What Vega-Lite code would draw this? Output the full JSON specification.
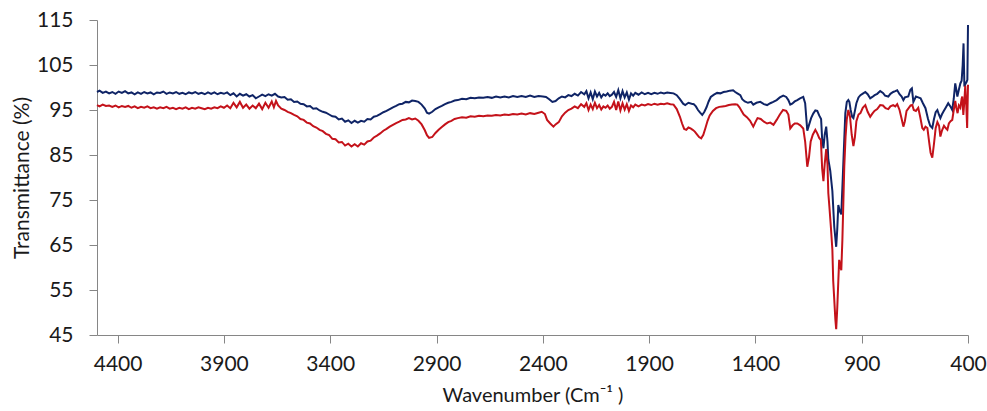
{
  "$schema": "https://vega.github.io/schema/vega-lite/v6.json",
  "autosize": {"type": "none"},
  "padding": {"left": 97, "top": 20, "right": 19, "bottom": 76},
  "width": 871,
  "height": 315,
  "background": "white",
  "config": {
    "view": {"stroke": null},
    "font": "Lato",
    "axis": {"labelFont": "Lato", "titleFont": "Lato", "labelFontSize": 21, "titleFontSize": 21, "titleFontWeight": "normal", "labelColor": "#1a1a1a", "titleColor": "#1a1a1a", "domainColor": "#868686", "tickColor": "#868686", "grid": false, "tickSize": 8}
  },
  "datasets": {
    "navy": [
      {"w":4497,"t":99.0},{"w":4485,"t":99.3},{"w":4470,"t":98.8},{"w":4455,"t":99.1},{"w":4440,"t":98.7},{"w":4425,"t":99.0},{"w":4410,"t":98.6},{"w":4395,"t":99.1},{"w":4380,"t":98.8},{"w":4365,"t":99.2},{"w":4350,"t":98.7},{"w":4335,"t":98.9},{"w":4320,"t":98.5},{"w":4305,"t":98.9},{"w":4290,"t":98.6},{"w":4275,"t":99.0},{"w":4260,"t":98.7},{"w":4245,"t":98.9},{"w":4230,"t":98.5},{"w":4215,"t":98.9},{"w":4200,"t":98.8},{"w":4185,"t":99.1},{"w":4170,"t":98.6},{"w":4155,"t":98.9},{"w":4140,"t":98.7},{"w":4125,"t":99.0},{"w":4110,"t":98.6},{"w":4095,"t":98.8},{"w":4080,"t":98.5},{"w":4065,"t":98.9},{"w":4050,"t":98.7},{"w":4035,"t":99.0},{"w":4020,"t":98.6},{"w":4005,"t":98.8},{"w":3990,"t":98.5},{"w":3975,"t":98.9},{"w":3960,"t":98.6},{"w":3945,"t":98.9},{"w":3930,"t":98.5},{"w":3915,"t":98.8},{"w":3900,"t":98.6},{"w":3885,"t":98.9},{"w":3870,"t":98.3},{"w":3855,"t":98.7},{"w":3840,"t":98.0},{"w":3825,"t":98.6},{"w":3810,"t":98.2},{"w":3795,"t":98.5},{"w":3780,"t":98.0},{"w":3765,"t":98.3},{"w":3750,"t":97.6},{"w":3735,"t":98.0},{"w":3720,"t":98.4},{"w":3705,"t":98.1},{"w":3690,"t":98.5},{"w":3675,"t":98.2},{"w":3660,"t":98.6},{"w":3645,"t":98.0},{"w":3630,"t":97.8},{"w":3615,"t":97.9},{"w":3600,"t":97.3},{"w":3585,"t":97.4},{"w":3570,"t":96.8},{"w":3555,"t":96.9},{"w":3540,"t":96.4},{"w":3525,"t":96.3},{"w":3510,"t":95.8},{"w":3495,"t":95.9},{"w":3480,"t":95.3},{"w":3465,"t":95.4},{"w":3450,"t":94.9},{"w":3435,"t":94.6},{"w":3420,"t":94.4},{"w":3405,"t":94.0},{"w":3390,"t":93.6},{"w":3375,"t":93.5},{"w":3360,"t":92.9},{"w":3345,"t":93.1},{"w":3330,"t":92.4},{"w":3315,"t":92.7},{"w":3300,"t":92.1},{"w":3285,"t":92.6},{"w":3270,"t":92.2},{"w":3255,"t":92.6},{"w":3240,"t":92.4},{"w":3225,"t":93.0},{"w":3210,"t":92.9},{"w":3195,"t":93.5},{"w":3180,"t":93.7},{"w":3165,"t":94.1},{"w":3150,"t":94.5},{"w":3135,"t":94.8},{"w":3120,"t":95.2},{"w":3105,"t":95.6},{"w":3090,"t":95.9},{"w":3075,"t":96.3},{"w":3060,"t":96.4},{"w":3045,"t":96.8},{"w":3030,"t":96.7},{"w":3015,"t":97.1},{"w":3000,"t":97.0},{"w":2985,"t":96.8},{"w":2970,"t":96.2},{"w":2955,"t":95.3},{"w":2945,"t":94.4},{"w":2935,"t":94.2},{"w":2920,"t":94.6},{"w":2905,"t":95.2},{"w":2890,"t":95.6},{"w":2875,"t":95.9},{"w":2860,"t":96.3},{"w":2845,"t":96.6},{"w":2830,"t":96.8},{"w":2815,"t":97.1},{"w":2800,"t":97.2},{"w":2780,"t":97.5},{"w":2760,"t":97.4},{"w":2740,"t":97.7},{"w":2720,"t":97.6},{"w":2700,"t":97.8},{"w":2680,"t":97.7},{"w":2660,"t":97.9},{"w":2640,"t":97.7},{"w":2620,"t":98.0},{"w":2600,"t":97.8},{"w":2580,"t":98.0},{"w":2560,"t":97.8},{"w":2540,"t":98.1},{"w":2520,"t":97.9},{"w":2500,"t":98.1},{"w":2480,"t":97.9},{"w":2460,"t":98.2},{"w":2440,"t":97.9},{"w":2420,"t":98.1},{"w":2400,"t":98.0},{"w":2385,"t":97.9},{"w":2370,"t":97.4},{"w":2355,"t":96.8},{"w":2340,"t":97.0},{"w":2325,"t":97.6},{"w":2310,"t":98.0},{"w":2295,"t":97.8},{"w":2280,"t":98.3},{"w":2265,"t":98.1},{"w":2250,"t":98.6},{"w":2235,"t":98.2},{"w":2220,"t":99.0},{"w":2205,"t":98.5},{"w":2195,"t":99.2},{"w":2185,"t":97.6},{"w":2175,"t":98.9},{"w":2165,"t":97.4},{"w":2155,"t":99.1},{"w":2145,"t":98.0},{"w":2135,"t":98.8},{"w":2125,"t":97.8},{"w":2115,"t":98.5},{"w":2105,"t":98.2},{"w":2095,"t":98.7},{"w":2085,"t":98.1},{"w":2075,"t":98.4},{"w":2065,"t":99.0},{"w":2055,"t":97.9},{"w":2045,"t":99.4},{"w":2035,"t":97.6},{"w":2025,"t":99.2},{"w":2015,"t":97.8},{"w":2005,"t":98.9},{"w":1995,"t":97.3},{"w":1985,"t":98.7},{"w":1975,"t":98.2},{"w":1965,"t":98.8},{"w":1950,"t":98.4},{"w":1935,"t":98.9},{"w":1920,"t":98.5},{"w":1905,"t":98.8},{"w":1890,"t":98.5},{"w":1875,"t":98.8},{"w":1860,"t":98.6},{"w":1845,"t":98.9},{"w":1830,"t":98.7},{"w":1815,"t":98.9},{"w":1800,"t":98.8},{"w":1785,"t":98.7},{"w":1770,"t":98.3},{"w":1755,"t":97.4},{"w":1740,"t":96.4},{"w":1730,"t":96.1},{"w":1715,"t":96.6},{"w":1700,"t":96.4},{"w":1690,"t":96.3},{"w":1680,"t":95.8},{"w":1670,"t":95.0},{"w":1660,"t":94.4},{"w":1650,"t":93.9},{"w":1640,"t":94.6},{"w":1630,"t":95.6},{"w":1620,"t":96.9},{"w":1610,"t":97.9},{"w":1595,"t":98.4},{"w":1580,"t":98.8},{"w":1565,"t":98.7},{"w":1550,"t":99.0},{"w":1535,"t":99.1},{"w":1520,"t":99.3},{"w":1505,"t":99.4},{"w":1495,"t":99.0},{"w":1485,"t":98.7},{"w":1471,"t":98.3},{"w":1462,"t":97.4},{"w":1450,"t":96.9},{"w":1435,"t":96.6},{"w":1420,"t":96.8},{"w":1410,"t":96.2},{"w":1395,"t":96.6},{"w":1377,"t":96.8},{"w":1360,"t":96.3},{"w":1345,"t":96.1},{"w":1330,"t":96.5},{"w":1316,"t":96.8},{"w":1300,"t":97.2},{"w":1285,"t":97.8},{"w":1269,"t":98.2},{"w":1255,"t":97.9},{"w":1245,"t":97.2},{"w":1236,"t":96.2},{"w":1227,"t":96.4},{"w":1215,"t":96.9},{"w":1203,"t":97.2},{"w":1190,"t":97.6},{"w":1175,"t":97.9},{"w":1166,"t":96.5},{"w":1156,"t":90.4},{"w":1147,"t":91.8},{"w":1138,"t":93.2},{"w":1128,"t":94.2},{"w":1118,"t":94.9},{"w":1109,"t":94.8},{"w":1100,"t":93.8},{"w":1091,"t":93.0},{"w":1086,"t":88.5},{"w":1080,"t":86.5},{"w":1074,"t":89.5},{"w":1067,"t":91.3},{"w":1061,"t":88.0},{"w":1057,"t":84.0},{"w":1048,"t":81.5},{"w":1038,"t":77.0},{"w":1029,"t":69.0},{"w":1020,"t":64.6},{"w":1015,"t":68.5},{"w":1010,"t":73.9},{"w":1003,"t":72.5},{"w":996,"t":71.8},{"w":989,"t":80.0},{"w":982,"t":88.5},{"w":977,"t":94.3},{"w":970,"t":96.8},{"w":963,"t":97.2},{"w":958,"t":96.8},{"w":952,"t":95.0},{"w":945,"t":93.5},{"w":939,"t":93.2},{"w":932,"t":94.8},{"w":925,"t":96.5},{"w":915,"t":97.8},{"w":906,"t":98.3},{"w":893,"t":98.7},{"w":883,"t":99.0},{"w":872,"t":98.5},{"w":860,"t":97.6},{"w":850,"t":97.9},{"w":839,"t":98.3},{"w":827,"t":98.6},{"w":813,"t":99.2},{"w":800,"t":98.8},{"w":790,"t":98.2},{"w":775,"t":98.0},{"w":765,"t":98.6},{"w":752,"t":99.0},{"w":742,"t":99.2},{"w":733,"t":99.4},{"w":722,"t":98.5},{"w":712,"t":98.0},{"w":704,"t":97.2},{"w":697,"t":97.8},{"w":681,"t":98.0},{"w":671,"t":99.5},{"w":664,"t":99.8},{"w":657,"t":96.8},{"w":645,"t":98.0},{"w":634,"t":97.8},{"w":623,"t":97.6},{"w":612,"t":96.5},{"w":600,"t":95.4},{"w":588,"t":93.0},{"w":578,"t":91.5},{"w":568,"t":91.0},{"w":560,"t":93.0},{"w":552,"t":94.5},{"w":544,"t":95.0},{"w":537,"t":94.0},{"w":530,"t":93.2},{"w":523,"t":94.0},{"w":516,"t":94.6},{"w":505,"t":95.5},{"w":493,"t":96.5},{"w":483,"t":95.8},{"w":474,"t":95.0},{"w":467,"t":97.5},{"w":460,"t":100.9},{"w":455,"t":99.5},{"w":450,"t":98.0},{"w":443,"t":99.5},{"w":436,"t":100.9},{"w":430,"t":101.5},{"w":425,"t":105.0},{"w":421,"t":109.8},{"w":417,"t":100.2},{"w":412,"t":100.8},{"w":407,"t":101.2},{"w":403,"t":101.7},{"w":400,"t":113.9}
    ],
    "red": [
      {"w":4497,"t":96.1},{"w":4485,"t":95.8},{"w":4470,"t":96.2},{"w":4455,"t":95.9},{"w":4440,"t":96.0},{"w":4425,"t":95.7},{"w":4410,"t":96.0},{"w":4395,"t":95.6},{"w":4380,"t":95.9},{"w":4365,"t":95.7},{"w":4350,"t":95.9},{"w":4335,"t":95.5},{"w":4320,"t":95.8},{"w":4305,"t":95.4},{"w":4290,"t":95.7},{"w":4275,"t":95.5},{"w":4260,"t":95.8},{"w":4245,"t":95.4},{"w":4230,"t":95.6},{"w":4215,"t":95.3},{"w":4200,"t":95.6},{"w":4185,"t":95.4},{"w":4170,"t":95.7},{"w":4155,"t":95.3},{"w":4140,"t":95.5},{"w":4125,"t":95.2},{"w":4110,"t":95.5},{"w":4095,"t":95.3},{"w":4080,"t":95.6},{"w":4065,"t":95.2},{"w":4050,"t":95.5},{"w":4035,"t":95.3},{"w":4020,"t":95.6},{"w":4005,"t":95.4},{"w":3990,"t":95.2},{"w":3975,"t":95.5},{"w":3960,"t":95.3},{"w":3945,"t":95.6},{"w":3930,"t":95.4},{"w":3915,"t":95.8},{"w":3900,"t":95.5},{"w":3885,"t":96.0},{"w":3870,"t":95.4},{"w":3855,"t":96.6},{"w":3840,"t":95.6},{"w":3825,"t":96.8},{"w":3810,"t":95.5},{"w":3795,"t":96.2},{"w":3780,"t":95.3},{"w":3765,"t":96.0},{"w":3750,"t":95.4},{"w":3735,"t":96.4},{"w":3720,"t":95.2},{"w":3705,"t":96.6},{"w":3690,"t":95.5},{"w":3675,"t":96.9},{"w":3665,"t":95.6},{"w":3655,"t":97.0},{"w":3645,"t":96.0},{"w":3630,"t":95.3},{"w":3615,"t":95.0},{"w":3600,"t":94.6},{"w":3585,"t":94.3},{"w":3570,"t":93.9},{"w":3555,"t":93.6},{"w":3540,"t":93.0},{"w":3525,"t":92.8},{"w":3510,"t":92.2},{"w":3495,"t":92.0},{"w":3480,"t":91.4},{"w":3465,"t":91.1},{"w":3450,"t":90.6},{"w":3435,"t":90.3},{"w":3420,"t":89.7},{"w":3405,"t":89.4},{"w":3390,"t":88.6},{"w":3375,"t":88.5},{"w":3360,"t":87.8},{"w":3345,"t":87.9},{"w":3330,"t":87.1},{"w":3315,"t":87.5},{"w":3300,"t":86.9},{"w":3285,"t":87.4},{"w":3270,"t":86.9},{"w":3255,"t":87.6},{"w":3240,"t":87.3},{"w":3225,"t":88.0},{"w":3210,"t":88.2},{"w":3195,"t":88.9},{"w":3180,"t":89.3},{"w":3165,"t":89.8},{"w":3150,"t":90.4},{"w":3135,"t":90.8},{"w":3120,"t":91.3},{"w":3105,"t":91.7},{"w":3090,"t":92.1},{"w":3075,"t":92.4},{"w":3060,"t":92.8},{"w":3045,"t":92.9},{"w":3030,"t":93.2},{"w":3015,"t":92.9},{"w":3000,"t":93.1},{"w":2985,"t":92.6},{"w":2970,"t":91.8},{"w":2955,"t":90.5},{"w":2945,"t":89.4},{"w":2935,"t":88.8},{"w":2920,"t":89.0},{"w":2905,"t":89.9},{"w":2890,"t":90.6},{"w":2875,"t":91.2},{"w":2860,"t":91.8},{"w":2845,"t":92.3},{"w":2830,"t":92.6},{"w":2815,"t":93.0},{"w":2800,"t":93.2},{"w":2780,"t":93.4},{"w":2760,"t":93.3},{"w":2740,"t":93.6},{"w":2720,"t":93.5},{"w":2700,"t":93.7},{"w":2680,"t":93.6},{"w":2660,"t":93.8},{"w":2640,"t":93.7},{"w":2620,"t":93.9},{"w":2600,"t":93.8},{"w":2580,"t":94.0},{"w":2560,"t":93.9},{"w":2540,"t":94.1},{"w":2520,"t":94.0},{"w":2500,"t":94.2},{"w":2480,"t":94.0},{"w":2460,"t":94.3},{"w":2440,"t":94.1},{"w":2420,"t":94.4},{"w":2405,"t":94.6},{"w":2390,"t":94.1},{"w":2380,"t":92.8},{"w":2365,"t":92.0},{"w":2350,"t":91.3},{"w":2340,"t":91.8},{"w":2325,"t":92.3},{"w":2310,"t":93.6},{"w":2295,"t":94.4},{"w":2280,"t":95.0},{"w":2265,"t":95.3},{"w":2250,"t":95.8},{"w":2235,"t":95.4},{"w":2220,"t":96.3},{"w":2205,"t":95.7},{"w":2195,"t":96.5},{"w":2185,"t":95.0},{"w":2175,"t":96.2},{"w":2165,"t":95.2},{"w":2155,"t":96.6},{"w":2145,"t":95.4},{"w":2135,"t":96.1},{"w":2125,"t":95.1},{"w":2115,"t":95.8},{"w":2105,"t":95.5},{"w":2095,"t":96.0},{"w":2085,"t":95.3},{"w":2075,"t":95.7},{"w":2065,"t":96.8},{"w":2055,"t":95.0},{"w":2045,"t":96.9},{"w":2035,"t":94.9},{"w":2025,"t":96.5},{"w":2015,"t":95.1},{"w":2005,"t":96.3},{"w":1995,"t":94.8},{"w":1985,"t":96.0},{"w":1975,"t":95.6},{"w":1965,"t":96.2},{"w":1950,"t":95.8},{"w":1935,"t":96.2},{"w":1920,"t":96.0},{"w":1905,"t":96.3},{"w":1890,"t":96.1},{"w":1875,"t":96.4},{"w":1860,"t":96.2},{"w":1845,"t":96.4},{"w":1830,"t":96.3},{"w":1815,"t":96.5},{"w":1800,"t":96.3},{"w":1785,"t":96.2},{"w":1770,"t":95.2},{"w":1755,"t":93.5},{"w":1745,"t":92.0},{"w":1735,"t":90.8},{"w":1725,"t":90.6},{"w":1715,"t":91.1},{"w":1705,"t":90.9},{"w":1695,"t":90.6},{"w":1685,"t":90.2},{"w":1675,"t":89.6},{"w":1665,"t":89.0},{"w":1655,"t":88.7},{"w":1645,"t":89.5},{"w":1635,"t":91.0},{"w":1625,"t":92.6},{"w":1615,"t":93.8},{"w":1600,"t":94.8},{"w":1585,"t":95.4},{"w":1570,"t":95.7},{"w":1555,"t":95.8},{"w":1540,"t":95.9},{"w":1525,"t":96.1},{"w":1510,"t":96.2},{"w":1495,"t":96.3},{"w":1485,"t":96.2},{"w":1475,"t":95.6},{"w":1465,"t":94.8},{"w":1455,"t":94.0},{"w":1440,"t":93.4},{"w":1425,"t":92.6},{"w":1410,"t":91.3},{"w":1400,"t":92.3},{"w":1390,"t":93.2},{"w":1375,"t":93.0},{"w":1360,"t":92.4},{"w":1345,"t":92.0},{"w":1330,"t":92.2},{"w":1315,"t":91.7},{"w":1300,"t":92.8},{"w":1285,"t":94.0},{"w":1270,"t":95.0},{"w":1255,"t":94.8},{"w":1245,"t":94.0},{"w":1236,"t":90.9},{"w":1225,"t":91.6},{"w":1215,"t":92.0},{"w":1203,"t":92.0},{"w":1189,"t":91.6},{"w":1175,"t":90.9},{"w":1166,"t":88.0},{"w":1156,"t":82.4},{"w":1148,"t":84.5},{"w":1140,"t":88.0},{"w":1130,"t":89.5},{"w":1118,"t":90.6},{"w":1109,"t":89.8},{"w":1100,"t":88.8},{"w":1092,"t":88.3},{"w":1086,"t":82.0},{"w":1080,"t":79.2},{"w":1074,"t":83.0},{"w":1067,"t":86.3},{"w":1061,"t":83.0},{"w":1057,"t":76.5},{"w":1052,"t":73.5},{"w":1045,"t":69.0},{"w":1038,"t":64.0},{"w":1034,"t":57.0},{"w":1029,"t":52.8},{"w":1024,"t":48.5},{"w":1020,"t":46.3},{"w":1015,"t":51.0},{"w":1010,"t":57.0},{"w":1006,"t":61.7},{"w":1001,"t":60.5},{"w":996,"t":59.4},{"w":991,"t":66.0},{"w":986,"t":75.0},{"w":982,"t":82.4},{"w":976,"t":89.0},{"w":970,"t":93.0},{"w":963,"t":95.0},{"w":955,"t":93.5},{"w":947,"t":89.5},{"w":939,"t":87.0},{"w":932,"t":89.0},{"w":925,"t":92.5},{"w":915,"t":94.0},{"w":906,"t":94.3},{"w":895,"t":95.5},{"w":883,"t":96.1},{"w":872,"t":94.6},{"w":860,"t":93.5},{"w":850,"t":94.2},{"w":840,"t":94.8},{"w":827,"t":95.2},{"w":813,"t":96.1},{"w":800,"t":96.0},{"w":788,"t":95.4},{"w":775,"t":95.2},{"w":765,"t":95.8},{"w":752,"t":96.1},{"w":742,"t":95.8},{"w":733,"t":96.3},{"w":722,"t":95.0},{"w":712,"t":93.0},{"w":704,"t":91.3},{"w":697,"t":92.5},{"w":689,"t":94.8},{"w":681,"t":95.3},{"w":670,"t":96.0},{"w":662,"t":96.1},{"w":655,"t":95.0},{"w":645,"t":94.8},{"w":634,"t":95.5},{"w":625,"t":93.5},{"w":615,"t":91.0},{"w":608,"t":90.6},{"w":600,"t":91.3},{"w":591,"t":91.0},{"w":583,"t":88.0},{"w":576,"t":85.5},{"w":568,"t":84.4},{"w":560,"t":87.5},{"w":552,"t":91.0},{"w":544,"t":92.3},{"w":536,"t":91.5},{"w":530,"t":89.1},{"w":522,"t":90.5},{"w":513,"t":91.5},{"w":505,"t":91.0},{"w":497,"t":90.6},{"w":490,"t":92.0},{"w":482,"t":92.5},{"w":474,"t":92.8},{"w":467,"t":95.0},{"w":460,"t":97.0},{"w":455,"t":95.5},{"w":449,"t":94.3},{"w":443,"t":96.0},{"w":436,"t":95.5},{"w":430,"t":97.5},{"w":427,"t":98.0},{"w":422,"t":93.9},{"w":417,"t":97.0},{"w":413,"t":100.4},{"w":408,"t":96.0},{"w":404,"t":91.0},{"w":400,"t":100.6}
    ]
  },
  "encoding": {
    "x": {
      "field": "w", "type": "quantitative",
      "scale": {"domain": [400, 4497], "reverse": true, "nice": false, "zero": false},
      "axis": {"values": [4400, 3900, 3400, 2900, 2400, 1900, 1400, 900, 400], "format": "d", "title": "Wavenumber (Cm⁻¹ )", "titleFontSize": 20, "labelPadding": 10, "titlePadding": 11, "labelFlush": false}
    },
    "y": {
      "field": "t", "type": "quantitative",
      "scale": {"domain": [45, 115], "nice": false, "zero": false},
      "axis": {"values": [45, 55, 65, 75, 85, 95, 105, 115], "title": "Transmittance (%)", "labelPadding": 16, "titlePadding": 4}
    }
  },
  "layer": [
    {"data": {"name": "navy"}, "mark": {"type": "line", "color": "#0f2466", "strokeWidth": 2}},
    {"data": {"name": "red"}, "mark": {"type": "line", "color": "#c4121a", "strokeWidth": 2}}
  ]
}
